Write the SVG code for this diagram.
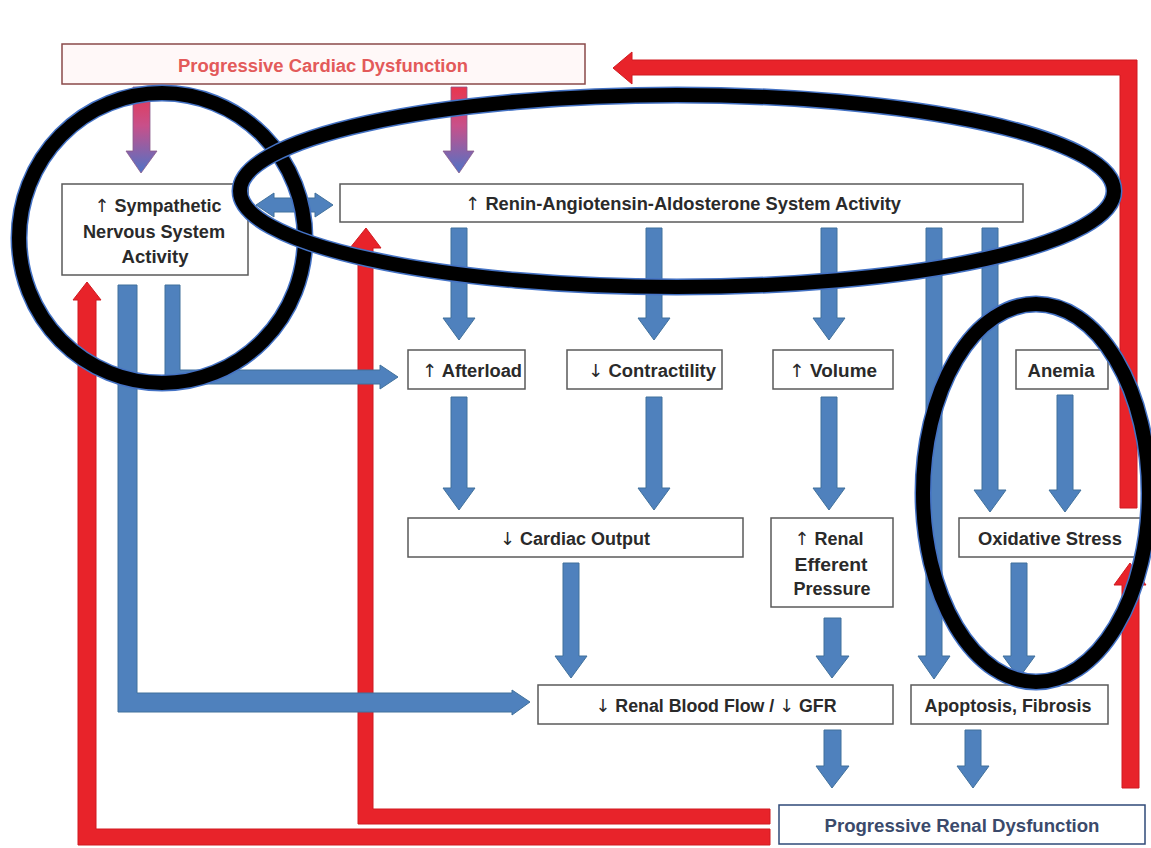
<svg xmlns="http://www.w3.org/2000/svg" width="1151" height="848" viewBox="0 0 1151 848">
<defs>
<linearGradient id="pg" x1="0" y1="0" x2="0" y2="1">
<stop offset="0" stop-color="#e8364e"/>
<stop offset="0.45" stop-color="#c8508a"/>
<stop offset="1" stop-color="#4f73c6"/>
</linearGradient>
</defs>
<style>
.box{fill:#ffffff;stroke:#5a5a5a;stroke-width:1.5}
.t{font-family:"Liberation Sans",Arial,sans-serif;font-weight:bold;font-size:18px;fill:#2a2a2a;text-anchor:middle}
.ar{font-family:"DejaVu Sans",sans-serif;font-weight:normal}
.blue{fill:#4f81bd;stroke:#41719c;stroke-width:1}
.red{fill:#e8232a;stroke:#d01a20;stroke-width:1}
.grad{fill:url(#pg);stroke:#8a5a8a;stroke-width:0.8}
.ringb{fill:none;stroke:#4472c4;stroke-width:17}
.ringk{fill:none;stroke:#000000;stroke-width:14}
</style>
<rect width="1151" height="848" fill="#ffffff"/>

<g id="connectors">
<polygon class="red" points="770,829 96,829 96,300 101,300 87,282 73,300 78,300 78,845 770,845"/>
<polygon class="red" points="770,809 373,809 373,248 381,248 366,228 350,248 358,248 358,824 770,824"/>
<polygon class="red" points="1137,508 1137,60 632,60 632,52 613,68 632,84 632,75 1120,75 1120,508"/>
<polygon class="red" points="1122,788 1139,788 1139,585 1146,585 1130,563 1114,585 1122,585"/>
<polygon class="grad" points="133,87 150,87 150,151 157,151 141,173 126,151 133,151"/>
<polygon class="grad" points="451,87 467,87 467,151 474,151 459,173 443,151 451,151"/>
<polygon class="blue" points="256,205 274,193 274,198 315,198 315,193 333,205 315,217 315,212 274,212 274,217"/>
<polygon class="blue" points="118,285 137,285 137,693 512,693 512,690 530,702 512,715 512,712 118,712"/>
<polygon class="blue" points="165,285 180,285 180,370 380,370 380,365 398,377 380,389 380,384 165,384"/>
<polygon class="blue" points="451,228 467,228 467,318 475,318 459,340 443,318 451,318"/>
<polygon class="blue" points="646,228 662,228 662,318 670,318 654,340 638,318 646,318"/>
<polygon class="blue" points="821,228 837,228 837,318 845,318 829,340 813,318 821,318"/>
<polygon class="blue" points="926,228 942,228 942,656 950,656 934,679 918,656 926,656"/>
<polygon class="blue" points="982,228 998,228 998,490 1006,490 990,512 974,490 982,490"/>
<polygon class="blue" points="451,397 467,397 467,488 475,488 459,510 443,488 451,488"/>
<polygon class="blue" points="646,397 662,397 662,488 670,488 654,510 638,488 646,488"/>
<polygon class="blue" points="821,397 837,397 837,488 845,488 829,510 813,488 821,488"/>
<polygon class="blue" points="1057,395 1073,395 1073,490 1081,490 1065,512 1049,490 1057,490"/>
<polygon class="blue" points="563,563 579,563 579,656 587,656 571,678 555,656 563,656"/>
<polygon class="blue" points="824,618 841,618 841,656 849,656 832,678 816,656 824,656"/>
<polygon class="blue" points="1011,563 1027,563 1027,656 1035,656 1019,678 1003,656 1011,656"/>
<polygon class="blue" points="824,730 841,730 841,766 849,766 832,788 816,766 824,766"/>
<polygon class="blue" points="965,730 981,730 981,766 989,766 973,788 957,766 965,766"/>
</g>

<g id="n-cardiac">
<rect x="62" y="44" width="523" height="40" fill="#fff8f8" stroke="#8a4a4a" stroke-width="1.5"/>
<text class="t" x="323" y="72" style="fill:#e35a5a" textLength="290" lengthAdjust="spacingAndGlyphs">Progressive Cardiac Dysfunction</text>
</g>
<g id="n-sns">
<rect class="box" x="62" y="184" width="186" height="91"/>
<text class="t" x="158" y="212" textLength="127" lengthAdjust="spacingAndGlyphs"><tspan class="ar">↑</tspan> Sympathetic</text>
<text class="t" x="154" y="238" textLength="142" lengthAdjust="spacingAndGlyphs">Nervous System</text>
<text class="t" x="155" y="263" textLength="67" lengthAdjust="spacingAndGlyphs">Activity</text>
</g>
<g id="n-raas">
<rect class="box" x="340" y="184" width="683" height="38"/>
<text class="t" x="683" y="210" textLength="436" lengthAdjust="spacingAndGlyphs"><tspan class="ar">↑</tspan> Renin-Angiotensin-Aldosterone System Activity</text>
</g>
<g id="n-afterload">
<rect class="box" x="408" y="350" width="117" height="39"/>
<text class="t" x="472" y="377" textLength="100" lengthAdjust="spacingAndGlyphs"><tspan class="ar">↑</tspan> Afterload</text>
</g>
<g id="n-contract">
<rect class="box" x="567" y="350" width="155" height="39"/>
<text class="t" x="652" y="377" textLength="128" lengthAdjust="spacingAndGlyphs"><tspan class="ar">↓</tspan> Contractility</text>
</g>
<g id="n-volume">
<rect class="box" x="773" y="350" width="120" height="39"/>
<text class="t" x="833" y="377" textLength="88" lengthAdjust="spacingAndGlyphs"><tspan class="ar">↑</tspan> Volume</text>
</g>
<g id="n-anemia">
<rect class="box" x="1016" y="350" width="92" height="39"/>
<text class="t" x="1061" y="377" textLength="67" lengthAdjust="spacingAndGlyphs">Anemia</text>
</g>
<g id="n-co">
<rect class="box" x="408" y="518" width="335" height="39"/>
<text class="t" x="575" y="545" textLength="150" lengthAdjust="spacingAndGlyphs"><tspan class="ar">↓</tspan> Cardiac Output</text>
</g>
<g id="n-efferent">
<rect class="box" x="771" y="518" width="122" height="89"/>
<text class="t" x="829" y="545" textLength="69" lengthAdjust="spacingAndGlyphs"><tspan class="ar">↑</tspan> Renal</text>
<text class="t" x="831" y="571" textLength="73" lengthAdjust="spacingAndGlyphs">Efferent</text>
<text class="t" x="832" y="595" textLength="77" lengthAdjust="spacingAndGlyphs">Pressure</text>
</g>
<g id="n-oxidative">
<rect class="box" x="959" y="518" width="182" height="39"/>
<text class="t" x="1050" y="545" textLength="144" lengthAdjust="spacingAndGlyphs">Oxidative Stress</text>
</g>
<g id="n-rbf">
<rect class="box" x="538" y="685" width="355" height="39"/>
<text class="t" x="716" y="712" textLength="241" lengthAdjust="spacingAndGlyphs"><tspan class="ar">↓</tspan> Renal Blood Flow / <tspan class="ar">↓</tspan> GFR</text>
</g>
<g id="n-apoptosis">
<rect class="box" x="911" y="685" width="197" height="39"/>
<text class="t" x="1008" y="712" textLength="167" lengthAdjust="spacingAndGlyphs">Apoptosis, Fibrosis</text>
</g>
<g id="n-renal">
<rect x="779" y="805" width="366" height="39" fill="#ffffff" stroke="#2f4a78" stroke-width="1.5"/>
<text class="t" x="962" y="832" style="fill:#3b4a6b" textLength="275" lengthAdjust="spacingAndGlyphs">Progressive Renal Dysfunction</text>
</g>

<g id="annotations">
<ellipse class="ringb" cx="162" cy="238" rx="143" ry="145"/>
<ellipse class="ringk" cx="162" cy="238" rx="143" ry="145"/>
<ellipse class="ringb" cx="677" cy="191" rx="437" ry="96"/>
<ellipse class="ringk" cx="677" cy="191" rx="437" ry="96"/>
<ellipse class="ringb" cx="1036" cy="493" rx="113" ry="189"/>
<ellipse class="ringk" cx="1036" cy="493" rx="113" ry="189"/>
</g>
</svg>
